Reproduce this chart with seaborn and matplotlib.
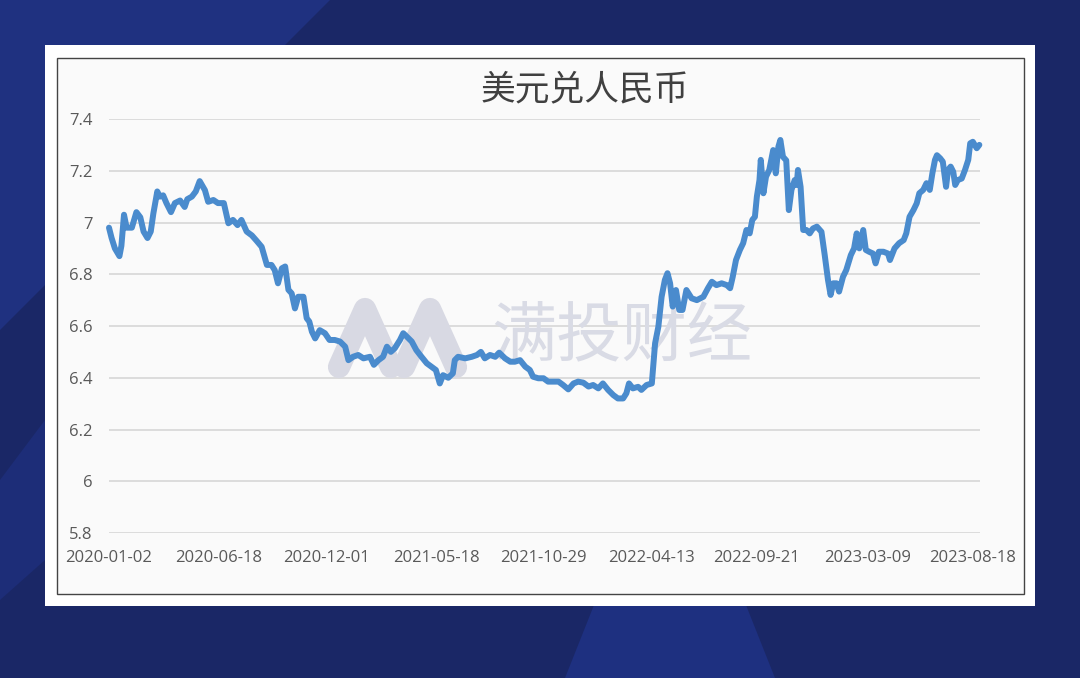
import matplotlib
matplotlib.use("Agg")
import matplotlib.pyplot as plt
import seaborn as sns
import pandas as pd
from matplotlib.patches import Rectangle, Polygon
from matplotlib.lines import Line2D

# ---------------- data ----------------
dates = [
    "2020-01-02", "2020-01-06", "2020-01-11", "2020-01-18", "2020-01-21", "2020-01-25",
    "2020-01-29", "2020-02-06", "2020-02-13", "2020-02-19", "2020-02-24", "2020-03-01",
    "2020-03-06", "2020-03-10", "2020-03-16", "2020-03-20", "2020-03-25", "2020-03-30",
    "2020-04-06", "2020-04-12", "2020-04-20", "2020-04-27", "2020-05-01", "2020-05-08",
    "2020-05-14", "2020-05-20", "2020-05-28", "2020-06-02", "2020-06-10", "2020-06-17",
    "2020-06-26", "2020-07-03", "2020-07-10", "2020-07-17", "2020-07-23", "2020-07-31",
    "2020-08-08", "2020-08-15", "2020-08-23", "2020-08-31", "2020-09-07", "2020-09-12",
    "2020-09-17", "2020-09-23", "2020-09-28", "2020-10-03", "2020-10-08", "2020-10-13",
    "2020-10-18", "2020-10-26", "2020-10-31", "2020-11-04", "2020-11-08", "2020-11-13",
    "2020-11-20", "2020-11-28", "2020-12-05", "2020-12-13", "2020-12-21", "2020-12-29",
    "2021-01-03", "2021-01-10", "2021-01-18", "2021-01-26", "2021-02-05", "2021-02-11",
    "2021-02-18", "2021-02-25", "2021-03-03", "2021-03-09", "2021-03-15", "2021-03-23",
    "2021-03-28", "2021-04-02", "2021-04-10", "2021-04-17", "2021-04-25", "2021-05-03",
    "2021-05-10", "2021-05-17", "2021-05-23", "2021-05-28", "2021-06-05", "2021-06-12",
    "2021-06-15", "2021-06-20", "2021-07-01", "2021-07-11", "2021-07-19", "2021-07-25",
    "2021-07-31", "2021-08-08", "2021-08-16", "2021-08-22", "2021-08-31", "2021-09-08",
    "2021-09-15", "2021-09-23", "2021-10-01", "2021-10-08", "2021-10-13", "2021-10-21",
    "2021-10-29", "2021-11-05", "2021-11-13", "2021-11-21", "2021-11-28", "2021-12-06",
    "2021-12-14", "2021-12-21", "2021-12-29", "2022-01-06", "2022-01-13", "2022-01-21",
    "2022-01-28", "2022-02-05", "2022-02-13", "2022-02-20", "2022-02-28", "2022-03-05",
    "2022-03-09", "2022-03-15", "2022-03-23", "2022-03-28", "2022-04-05", "2022-04-13",
    "2022-04-18", "2022-04-23", "2022-04-28", "2022-05-03", "2022-05-07", "2022-05-11",
    "2022-05-15", "2022-05-20", "2022-05-25", "2022-05-30", "2022-06-05", "2022-06-13",
    "2022-06-21", "2022-07-01", "2022-07-08", "2022-07-14", "2022-07-21", "2022-07-29",
    "2022-08-06", "2022-08-11", "2022-08-15", "2022-08-20", "2022-08-26", "2022-08-31",
    "2022-09-05", "2022-09-10", "2022-09-14", "2022-09-18", "2022-09-21", "2022-09-25",
    "2022-09-27", "2022-10-01", "2022-10-05", "2022-10-10", "2022-10-16", "2022-10-20",
    "2022-10-24", "2022-10-27", "2022-10-31", "2022-11-05", "2022-11-09", "2022-11-13",
    "2022-11-18", "2022-11-21", "2022-11-23", "2022-11-27", "2022-12-01", "2022-12-06",
    "2022-12-11", "2022-12-16", "2022-12-22", "2022-12-29", "2023-01-03", "2023-01-08",
    "2023-01-12", "2023-01-16", "2023-01-21", "2023-01-25", "2023-01-31", "2023-02-05",
    "2023-02-12", "2023-02-17", "2023-02-21", "2023-02-25", "2023-03-03", "2023-03-07",
    "2023-03-12", "2023-03-18", "2023-03-22", "2023-03-27", "2023-04-03", "2023-04-10",
    "2023-04-13", "2023-04-20", "2023-04-27", "2023-05-04", "2023-05-08", "2023-05-13",
    "2023-05-19", "2023-05-24", "2023-05-28", "2023-06-03", "2023-06-08", "2023-06-13",
    "2023-06-17", "2023-06-21", "2023-06-24", "2023-06-29", "2023-07-03", "2023-07-08",
    "2023-07-11", "2023-07-15", "2023-07-19", "2023-07-22", "2023-07-26", "2023-08-01",
    "2023-08-06", "2023-08-11", "2023-08-14", "2023-08-18", "2023-08-24", "2023-08-28",
]
usd_cny = [
    6.98, 6.94, 6.90, 6.87, 6.91, 7.03,
    6.98, 6.98, 7.04, 7.02, 6.965, 6.94,
    6.965, 7.035, 7.12, 7.10, 7.105, 7.075,
    7.04, 7.075, 7.085, 7.06, 7.09, 7.10,
    7.12, 7.16, 7.125, 7.08, 7.087, 7.075,
    7.075, 6.997, 7.01, 6.99, 7.01, 6.965,
    6.95, 6.93, 6.906, 6.836, 6.836, 6.816,
    6.765, 6.823, 6.83, 6.74, 6.726, 6.668,
    6.713, 6.713, 6.63, 6.617, 6.578, 6.552,
    6.584, 6.572, 6.546, 6.546, 6.54, 6.52,
    6.468, 6.481, 6.488, 6.475, 6.481, 6.45,
    6.468, 6.481, 6.52, 6.50, 6.514, 6.546,
    6.572, 6.56, 6.54, 6.507, 6.481, 6.456,
    6.443, 6.43, 6.378, 6.41, 6.40, 6.417,
    6.468, 6.481, 6.475, 6.481, 6.488, 6.50,
    6.475, 6.488, 6.481, 6.497, 6.475, 6.462,
    6.462, 6.468, 6.443, 6.43, 6.404, 6.398,
    6.398, 6.385, 6.385, 6.385, 6.372, 6.355,
    6.378, 6.385, 6.381, 6.366, 6.372, 6.359,
    6.378, 6.353, 6.333, 6.32, 6.32, 6.34,
    6.378, 6.359, 6.365, 6.353, 6.372, 6.378,
    6.533, 6.597, 6.713, 6.778, 6.804, 6.765,
    6.675, 6.739, 6.662, 6.662, 6.739, 6.707,
    6.70, 6.713, 6.746, 6.771, 6.758, 6.765,
    6.758, 6.746, 6.79, 6.855, 6.894, 6.92,
    6.971, 6.958, 7.01, 7.022, 7.10, 7.164,
    7.242, 7.113, 7.177, 7.203, 7.28, 7.19,
    7.293, 7.319, 7.254, 7.24, 7.048, 7.126,
    7.164, 7.145, 7.203, 7.138, 6.971, 6.971,
    6.958, 6.977, 6.984, 6.964, 6.874, 6.778,
    6.72, 6.765, 6.765, 6.733, 6.79, 6.816,
    6.874, 6.90, 6.958, 6.90, 6.971, 6.894,
    6.887, 6.88, 6.842, 6.887, 6.887, 6.88,
    6.855, 6.90, 6.92, 6.932, 6.958, 7.022,
    7.048, 7.074, 7.113, 7.126, 7.152, 7.126,
    7.19, 7.242, 7.26, 7.248, 7.235, 7.138,
    7.203, 7.216, 7.196, 7.145, 7.164, 7.17,
    7.203, 7.242, 7.306, 7.312, 7.287, 7.30,
]
x_tick_labels = ["2020-01-02", "2020-06-18", "2020-12-01", "2021-05-18", "2021-10-29",
                 "2022-04-13", "2022-09-21", "2023-03-09", "2023-08-18"]
y_ticks = [5.8, 6.0, 6.2, 6.4, 6.6, 6.8, 7.0, 7.2, 7.4]
y_tick_labels = ["5.8", "6", "6.2", "6.4", "6.6", "6.8", "7", "7.2", "7.4"]
title = "美元兑人民币"
watermark = "满投财经"

df = pd.DataFrame({"date": pd.to_datetime(dates), "rate": usd_cny})

# ---------------- figure ----------------
sns.set_theme(style="white")
plt.rcParams['font.family'] = ['Open Sans', 'Noto Sans CJK SC', 'DejaVu Sans']

W, H = 1080, 678
fig = plt.figure(figsize=(W / 100, H / 100), dpi=100, facecolor="#1a2766")


def fx(px):
    return px / W


def fy(py):
    return 1 - py / H


def fig_poly(pts, color, z):
    fig.patches.append(Polygon([(fx(a), fy(b)) for a, b in pts], closed=True,
                               transform=fig.transFigure, fc=color, ec="none", zorder=z))


# decorative background shapes
fig_poly([(0, 0), (330, 0), (0, 330)], "#1f3180", -30)
fig_poly([(0, 480), (45, 420), (45, 560), (0, 600)], "#1d2d78", -30)
fig_poly([(600, 590), (740, 590), (775, 678), (565, 678)], "#1e3080", -30)

# white card and bordered chart area
fig.patches.append(Rectangle((fx(45), fy(606)), fx(1035) - fx(45), (606 - 45) / H,
                             transform=fig.transFigure, fc="white", ec="none", zorder=-20))
fig.patches.append(Rectangle((fx(57), fy(594)), fx(1024) - fx(57), (594 - 58) / H,
                             transform=fig.transFigure, fc="#fafafa", ec="#444444",
                             lw=1.0, zorder=-19))

ax = fig.add_axes([fx(109), fy(533), fx(980) - fx(109), (533 - 119) / H])
ax.patch.set_alpha(0)

# watermark (under the line)
ax.text(fx(622), fy(337), watermark, transform=fig.transFigure, ha="center", va="center",
        fontsize=47, color="#d9dbe5", family=["Noto Sans CJK SC"], fontweight="medium",
        zorder=1)
for pts in ([(339, 367), (365, 309), (391, 367)], [(404, 367), (430, 309), (456, 367)]):
    ln = Line2D([fx(a) for a, b in pts], [fy(b) for a, b in pts], transform=fig.transFigure,
                color="#d8d9e3", lw=16, solid_capstyle="round", solid_joinstyle="round",
                zorder=1)
    ax.add_line(ln)

sns.lineplot(data=df, x="date", y="rate", ax=ax, color="#4a8bcd", linewidth=4.3, zorder=3)
for l in ax.get_lines():
    if l.get_zorder() == 3:
        l.set_clip_on(False)
        l.set_solid_joinstyle("round")

ax.set_xlim(pd.Timestamp("2020-01-02"), pd.Timestamp("2023-08-29"))
ax.set_ylim(5.8, 7.4)
ax.set_yticks(y_ticks)
ax.set_yticklabels(y_tick_labels)
ax.set_xticks(pd.to_datetime(x_tick_labels))
ax.set_xticklabels(x_tick_labels)
ax.set_xlabel("")
ax.set_ylabel("")
ax.grid(axis="y", color="#d9d9d9", linewidth=1.3)
ax.grid(axis="x", visible=False)
ax.set_axisbelow(True)
for s in ax.spines.values():
    s.set_visible(False)
ax.tick_params(axis="both", length=0, colors="#595959", labelsize=12)
ax.tick_params(axis="y", pad=12)
ax.tick_params(axis="x", pad=12)

fig.text(fx(585), fy(90), title, ha="center", va="center", fontsize=25,
         color="#404040", family=["Noto Sans CJK SC"])

fig.savefig("out.png", dpi=100, facecolor=fig.get_facecolor())
